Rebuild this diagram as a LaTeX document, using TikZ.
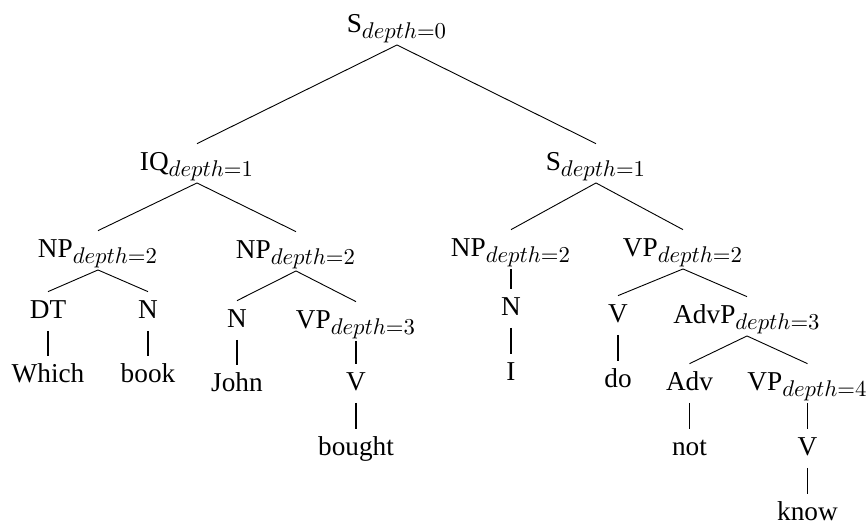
\documentclass[tikz,border=0pt]{standalone}
\usepackage[no-math]{fontspec}
\setmainfont{Liberation Serif}
\usepackage{tikz}
\usetikzlibrary{positioning}
\DeclareMathSizes{12}{12}{10}{8}
\newcommand{\dep}[1]{$_{depth=#1}$}

\begin{document}
\begin{tikzpicture}[on grid,
  every node/.style={font=\fontsize{12}{14}\selectfont,text height=8.4pt,text depth=2.5pt,inner sep=3pt},
  unary/.style={line width=0.75pt}]
  \useasboundingbox (0,0) rectangle (381.48pt,-230.12pt);
  \node (s0)   at (174.68pt,-11.13pt)                  {S\dep{0}};
  \node (iq)   [below left =60.72pt and 88pt of s0]    {IQ\dep{1}};
  \node (s1)   [below right=60.72pt and 87.56pt of s0] {S\dep{1}};
  % left part
  \node (np1)  [below left =38.28pt and 43.56pt of iq]  {NP\dep{2}};
  \node (np2)  [below right=38.72pt and 43.56pt of iq]  {NP\dep{2}};
  \node (dt)   [below left =26.84pt and 22pt of np1]    {DT};
  \node (n1)   [below right=26.84pt and 22pt of np1]    {N};
  \node (which)[below=28.16pt of dt]                    {Which};
  \node (book) [below=28.16pt of n1]                    {book};
  \node (n2)   [below left =30.36pt and 25.96pt of np2] {N};
  \node (vp3)  [below right=30.8pt and 26.4pt of np2]   {VP\dep{3}};
  \node (john) [below=28.16pt of n2]                    {John};
  \node (v2)   [below=27.28pt of vp3]                   {V};
  \node (bought)[below=28.6pt of v2]                    {bought};
  % right part
  \node (np3)  [below left =37.84pt and 37.4pt of s1]   {NP\dep{2}};
  \node (vp2)  [below right=37.84pt and 38.28pt of s1]  {VP\dep{2}};
  \node (n3)   [below=25.96pt of np3]                   {N};
  \node (i)    [below=28.6pt of n3]                     {I};
  \node (v1)   [below left =29.04pt and 28.6pt of vp2]  {V};
  \node (advp) [below right=29.48pt and 28.16pt of vp2] {AdvP\dep{3}};
  \node (do)   [below=28.6pt of v1]                     {do};
  \node (adv)  [below left =29.48pt and 25.3pt of advp] {Adv};
  \node (vp4)  [below right=29.48pt and 26.62pt of advp]{VP\dep{4}};
  \node (not)  [below=28.6pt of adv]                    {not};
  \node (v3)   [below=28.6pt of vp4]                    {V};
  \node (know) [below=28.6pt of v3]                     {know};
% branching edges
\foreach \p/\c in {s0/iq,s0/s1,iq/np1,iq/np2,np1/dt,np1/n1,np2/n2,np2/vp3,
                   s1/np3,s1/vp2,vp2/v1,vp2/advp,advp/adv,advp/vp4}
  \draw (\p.south) -- (\c.north);
% single child edges
\foreach \p/\c in {dt/which,n1/book,n2/john,vp3/v2,v2/bought,np3/n3,n3/i,
                   v1/do,adv/not,vp4/v3,v3/know}
  \draw[unary] (\p.south) -- (\c.north);
\end{tikzpicture}
\end{document}
